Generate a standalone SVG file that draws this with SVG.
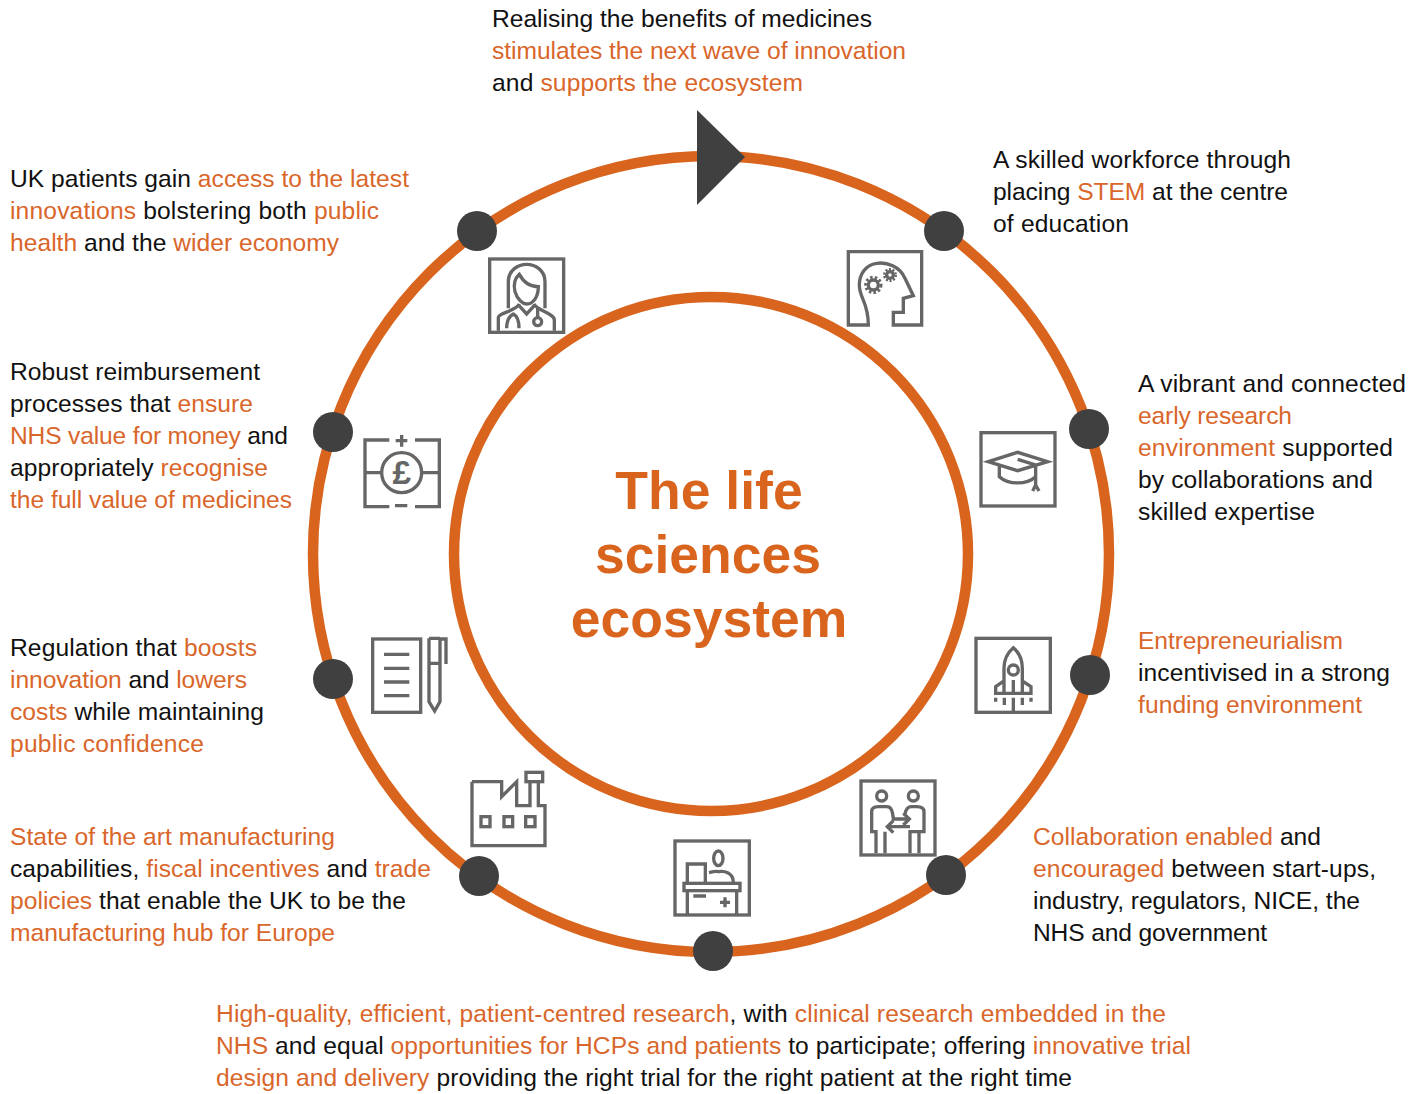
<svg xmlns="http://www.w3.org/2000/svg" width="1425" height="1094" viewBox="0 0 1425 1094">
<style>
.t{font-family:"Liberation Sans",Arial,sans-serif;font-size:24.6px;fill:#111}
.o{fill:#D9662A}
.title{font-family:"Liberation Sans",Arial,sans-serif;font-size:53.5px;font-weight:700;fill:#D9641E;text-anchor:middle}
.ring{fill:none;stroke:#D9641E;stroke-width:10.5}
.dot{fill:#404041}
.i{fill:none;stroke:#666;stroke-width:10;stroke-linejoin:miter}
</style>
<rect width="1425" height="1094" fill="#fff"/>
<g id="connectors">
<circle class="ring" cx="711" cy="554" r="398"/>
<circle class="ring" cx="711" cy="554" r="257"/>
<polygon class="dot" points="697,110 745,157 697,205"/>
<circle class="dot" cx="477" cy="231" r="20"/>
<circle class="dot" cx="944" cy="231" r="20"/>
<circle class="dot" cx="1089" cy="429" r="20"/>
<circle class="dot" cx="1090" cy="675" r="20"/>
<circle class="dot" cx="946" cy="875" r="20"/>
<circle class="dot" cx="713" cy="951" r="20"/>
<circle class="dot" cx="479" cy="876" r="20"/>
<circle class="dot" cx="333" cy="679" r="20"/>
<circle class="dot" cx="333" cy="432" r="20"/>
</g>
<g id="center"><text class="title" x="709" y="509">The life</text><text class="title" x="708" y="573">sciences</text><text class="title" x="709" y="637">ecosystem</text></g>

<g id="icon-doctor" class="i" transform="translate(460,230) scale(.3333)">
<rect x="89" y="87" width="222" height="220"/>
<path d="M145,235V155C145,120 175,103 200,103C225,103 255,120 255,155V235"/>
<path d="M178,133C165,145 160,165 165,185C172,210 190,222 200,222C220,222 235,200 235,170C210,170 190,155 178,133Z"/>
<path d="M115,302V262C115,250 170,242 178,222M222,222C230,242 283,250 283,270V302M178,228L200,252L222,228"/>
<path d="M140,295C140,270 148,258 160,252C172,258 177,275 177,295M233,262V232"/>
<circle cx="233" cy="275" r="12"/>
</g>
<g id="icon-head" class="i" transform="translate(830,235) scale(.3333)">
<path d="M55,50H275V270H190V232H220V190L250,182L225,130C210,95 170,80 140,85C105,90 88,120 88,150C88,190 115,200 115,270H55Z"/>
<circle cx="130" cy="150" r="15"/><circle cx="130" cy="150" r="23" stroke-width="9" stroke-dasharray="7.5 6.5"/>
<circle cx="180" cy="120" r="10"/><circle cx="180" cy="120" r="17" stroke-width="8" stroke-dasharray="6 4.7"/>
</g>
<g id="icon-cap" class="i" transform="translate(965,420) scale(.3333)">
<rect x="48" y="38" width="222" height="220"/>
<path d="M70,125L158,97L248,125L158,152ZM158,118L212,135V195M103,135V170C130,195 185,195 212,170M203,213L212,195L222,213"/>
</g>
<g id="icon-rocket" class="i" transform="translate(965,625) scale(.3333)">
<rect x="33" y="40" width="223" height="222"/>
<path d="M145,68C125,85 117,110 117,130V205H172V130C172,110 165,85 145,68ZM117,168L92,185V205H117M172,168L198,185V205H172M145,165V205M92,218V230M118,218V240M145,218V262M172,218V240M198,218V230"/>
<circle cx="145" cy="135" r="15"/>
</g>
<g id="icon-collab" class="i" transform="translate(850,770) scale(.3333)">
<rect x="33" y="33" width="222" height="222"/>
<circle cx="95" cy="78" r="15"/><circle cx="190" cy="78" r="15"/>
<path d="M78,250V185H65V125C65,112 75,110 85,110H110C125,110 128,125 130,147H178M160,130L178,147L160,165M180,170H112M130,152L112,170L130,188M105,250V185"/>
<path d="M180,250V185H222V125C222,112 210,110 200,110H185C172,110 167,120 165,132M207,250V185"/>
</g>
<g id="icon-desk" class="i" transform="translate(660,830) scale(.3333)">
<rect x="45" y="33" width="223" height="222"/>
<path d="M82,158V102H136V158M147,128C165,125 165,122 175,125C190,122 220,125 220,158M82,182V252M230,182V252M100,198H138M180,217H210M195,202V232"/>
<ellipse cx="175" cy="85" rx="14" ry="22"/>
<rect x="72" y="160" width="168" height="22"/>
</g>
<g id="icon-factory" class="i" transform="translate(460,765) scale(.3333)">
<path d="M36,50H125V95L170,50V122H210V50M235,50V122H255V242H36V50"/>
<rect x="198" y="22" width="50" height="28"/>
<rect x="63" y="155" width="27" height="30"/><rect x="132" y="155" width="26" height="30"/><rect x="197" y="155" width="28" height="30"/>
</g>
<g id="icon-notes" class="i" transform="translate(360,630) scale(.3333)">
<rect x="38" y="27" width="144" height="220"/>
<path d="M72,73H148M72,115H148M72,156H148M72,197H148M207,25H240M207,25V215L224,243L240,215V25M207,100H240M240,27H258V102"/>
</g>
<g id="icon-pound" class="i" transform="translate(350,425) scale(.3333)">
<path d="M118,45H45V245H118M195,245H268V45H195M135,242H172M137,47H172M155,30V65M45,143H95M215,143H268"/>
<circle cx="155" cy="143" r="60"/>
<text x="155" y="178" text-anchor="middle" style="font-family:'Liberation Sans',Arial,sans-serif;font-size:100px;font-weight:700;fill:#666;stroke:none">£</text>
</g>

<g id="top"><text class="t" x="492" y="27" textLength="380">Realising the benefits of medicines</text>
<text class="t o" x="492" y="59" textLength="414">stimulates the next wave of innovation</text>
<text class="t" x="492" y="91" textLength="311">and <tspan class="o">supports the ecosystem</tspan></text></g>
<g id="stem"><text class="t" x="993" y="168" textLength="298">A skilled workforce through</text>
<text class="t" x="993" y="200" textLength="295">placing <tspan class="o">STEM</tspan> at the centre</text>
<text class="t" x="993" y="232" textLength="136">of education</text></g>
<g id="research"><text class="t" x="1138" y="392" textLength="268">A vibrant and connected</text>
<text class="t o" x="1138" y="424" textLength="154">early research</text>
<text class="t" x="1138" y="456" textLength="255"><tspan class="o">environment</tspan> supported</text>
<text class="t" x="1138" y="488" textLength="235">by collaborations and</text>
<text class="t" x="1138" y="520" textLength="177">skilled expertise</text></g>
<g id="entre"><text class="t o" x="1138" y="649" textLength="205">Entrepreneurialism</text>
<text class="t" x="1138" y="681" textLength="252">incentivised in a strong</text>
<text class="t o" x="1138" y="713" textLength="224">funding environment</text></g>
<g id="collab"><text class="t" x="1033" y="845" textLength="288"><tspan class="o">Collaboration enabled</tspan> and</text>
<text class="t" x="1033" y="877" textLength="343"><tspan class="o">encouraged</tspan> between start-ups,</text>
<text class="t" x="1033" y="909" textLength="327">industry, regulators, NICE, the</text>
<text class="t" x="1033" y="941" textLength="234">NHS and government</text></g>
<g id="trial"><text class="t" x="216" y="1022" textLength="950"><tspan class="o">High-quality, efficient, patient-centred research</tspan>, with <tspan class="o">clinical research embedded in the</tspan></text>
<text class="t" x="216" y="1054" textLength="975"><tspan class="o">NHS</tspan> and equal <tspan class="o">opportunities for HCPs and patients</tspan> to participate; offering <tspan class="o">innovative trial</tspan></text>
<text class="t" x="216" y="1086" textLength="856"><tspan class="o">design and delivery</tspan> providing the right trial for the right patient at the right time</text></g>
<g id="manuf"><text class="t o" x="10" y="845" textLength="325">State of the art manufacturing</text>
<text class="t" x="10" y="877" textLength="421">capabilities, <tspan class="o">fiscal incentives</tspan> and <tspan class="o">trade</tspan></text>
<text class="t" x="10" y="909" textLength="396"><tspan class="o">policies</tspan> that enable the UK to be the</text>
<text class="t o" x="10" y="941" textLength="325">manufacturing hub for Europe</text></g>
<g id="reg"><text class="t" x="10" y="656" textLength="247">Regulation that <tspan class="o">boosts</tspan></text>
<text class="t" x="10" y="688" textLength="237"><tspan class="o">innovation</tspan> and <tspan class="o">lowers</tspan></text>
<text class="t" x="10" y="720" textLength="254"><tspan class="o">costs</tspan> while maintaining</text>
<text class="t o" x="10" y="752" textLength="194">public confidence</text></g>
<g id="reimb"><text class="t" x="10" y="380" textLength="250">Robust reimbursement</text>
<text class="t" x="10" y="412" textLength="243">processes that <tspan class="o">ensure</tspan></text>
<text class="t" x="10" y="444" textLength="278"><tspan class="o">NHS value for money</tspan> and</text>
<text class="t" x="10" y="476" textLength="258">appropriately <tspan class="o">recognise</tspan></text>
<text class="t o" x="10" y="508" textLength="282">the full value of medicines</text></g>
<g id="access"><text class="t" x="10" y="187" textLength="399">UK patients gain <tspan class="o">access to the latest</tspan></text>
<text class="t" x="10" y="219" textLength="369"><tspan class="o">innovations</tspan> bolstering both <tspan class="o">public</tspan></text>
<text class="t" x="10" y="251" textLength="329"><tspan class="o">health</tspan> and the <tspan class="o">wider economy</tspan></text></g>
</svg>
